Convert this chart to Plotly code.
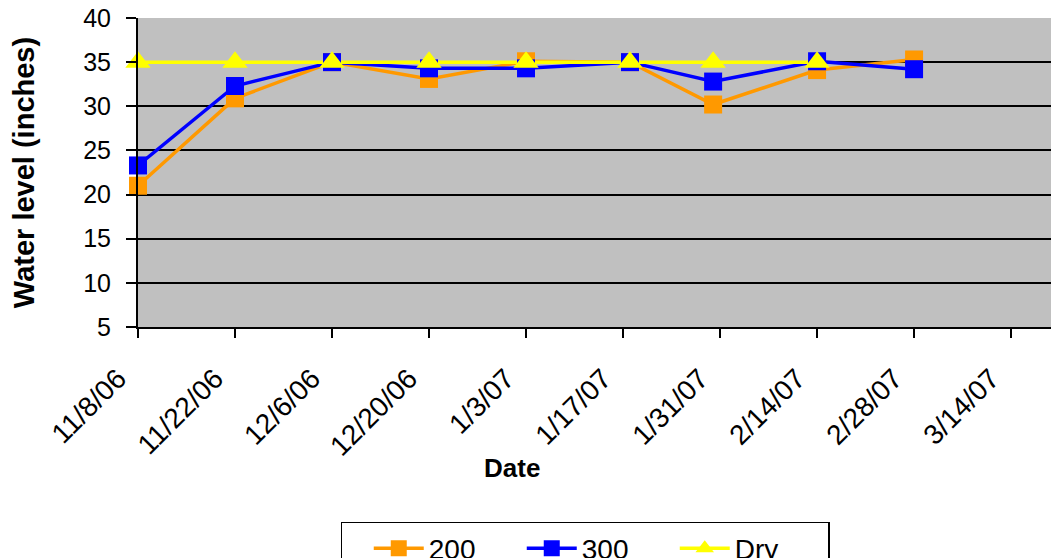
import plotly.graph_objects as go

# sample dates (x) and water levels (inches)
dates_200 = ["2006-11-08", "2006-11-22", "2006-12-06", "2006-12-20", "2007-01-03",
             "2007-01-18", "2007-01-30", "2007-02-14", "2007-02-28"]
level_200 = [21.0, 30.9, 35.0, 33.1, 35.1, 35.0, 30.2, 34.1, 35.3]

dates_300 = dates_200
level_300 = [23.3, 32.3, 35.0, 34.3, 34.3, 35.0, 32.8, 35.1, 34.2]

dates_dry = dates_200[:8]
level_dry = [35.0, 35.0, 35.0, 35.0, 35.0, 35.0, 35.0, 35.0]

tick_dates = ["2006-11-08", "2006-11-22", "2006-12-06", "2006-12-20", "2007-01-03",
              "2007-01-17", "2007-01-31", "2007-02-14", "2007-02-28", "2007-03-14"]
tick_labels = ["11/8/06", "11/22/06", "12/6/06", "12/20/06", "1/3/07",
               "1/17/07", "1/31/07", "2/14/07", "2/28/07", "3/14/07"]

series = [
    ("200", dates_200, level_200, "#FF9900", "square", 18),
    ("300", dates_300, level_300, "#0000FF", "square", 18),
    ("Dry", dates_dry, level_dry, "#FFFF00", "triangle-up", 22),
]

fig = go.Figure()

# lines first, then markers on top (like Excel draws them)
for name, x, y, color, sym, size in series:
    fig.add_trace(go.Scatter(x=x, y=y, mode="lines", line=dict(color=color, width=3.5),
                             showlegend=False, hoverinfo="skip", cliponaxis=False))
for name, x, y, color, sym, size in series:
    fig.add_trace(go.Scatter(x=x, y=y, mode="markers", name=name, showlegend=False,
                             marker=dict(color=color, symbol=sym, size=size,
                                         line=dict(width=0)),
                             cliponaxis=False))
# legend entries
for name, x, y, color, sym, size in series:
    fig.add_trace(go.Scatter(x=[None], y=[None], mode="lines+markers", name=name,
                             line=dict(color=color, width=3.5),
                             marker=dict(color=color, symbol=sym, size=16)))

# page body has an 8px margin, so the figure sits at (8, 8) in the window
fig.update_layout(
    width=1059, height=558,
    margin=dict(l=130, r=8, t=10, b=239, autoexpand=False),
    paper_bgcolor="white",
    plot_bgcolor="#C0C0C0",
    font=dict(family="Liberation Sans, Arial, sans-serif", color="black", size=26),
    legend=dict(orientation="h", x=0.2204, xanchor="left", y=-0.631, yanchor="top",
                bordercolor="black", borderwidth=1.5, font=dict(size=28),
                itemwidth=50, entrywidth=88, entrywidthmode="pixels",
                tracegroupgap=0,
                title=dict(text="&nbsp;&#8201;", side="left")),
    annotations=[dict(text="<b>Date</b>", xref="paper", yref="paper",
                      x=0.406, y=-0.456, xanchor="center", yanchor="middle",
                      showarrow=False, font=dict(size=26))],
)

fig.update_xaxes(
    type="date", automargin=False,
    range=["2006-11-08", "2007-03-20 22:00"],
    tickvals=tick_dates, ticktext=tick_labels, tickangle=-45,
    ticks="outside", ticklen=9, tickcolor="black", tickwidth=1.5,
    ticklabelstandoff=13, ticklabelshift=-20, ticklabeloverflow="allow",
    showgrid=False, zeroline=False,
    showline=True, linecolor="black", linewidth=2,
    tickfont=dict(size=28),
)
fig.update_yaxes(
    range=[5, 40], dtick=5, automargin=False,
    ticks="outside", ticklen=10, tickcolor="black", tickwidth=1.5,
    ticklabelstandoff=10, ticklabeloverflow="allow",
    showgrid=True, gridcolor="black", gridwidth=1.5,
    zeroline=False, showline=True, linecolor="black", linewidth=2,
    tickfont=dict(size=25),
    title=dict(text="<b>Water level (inches)</b>", font=dict(size=29), standoff=40),
)

fig.write_html("out.html")
